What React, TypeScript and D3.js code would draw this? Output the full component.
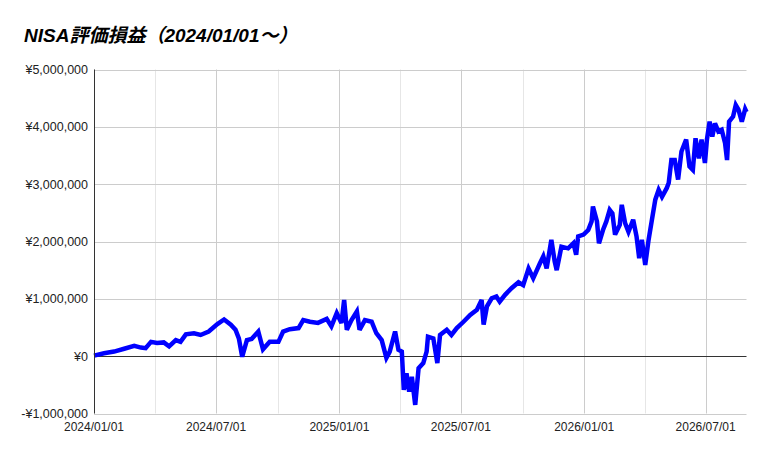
import React, { useEffect, useRef } from 'react';
import * as d3 from 'd3';

const chartTitle = 'NISA評価損益（2024/01/01～）';

// 日付 (YYYY-MM-DD)
const dates: string[] = [
  '2024-01-01', '2024-01-16', '2024-01-31', '2024-02-15', '2024-03-01', '2024-03-11', '2024-03-18',
  '2024-03-26', '2024-04-04', '2024-04-14', '2024-04-22', '2024-05-02', '2024-05-09', '2024-05-17',
  '2024-05-29', '2024-06-08', '2024-06-20', '2024-07-03', '2024-07-13', '2024-07-23', '2024-07-30',
  '2024-08-04', '2024-08-09', '2024-08-16', '2024-08-23', '2024-09-02', '2024-09-09', '2024-09-19',
  '2024-10-02', '2024-10-09', '2024-10-19', '2024-11-01', '2024-11-08', '2024-11-18', '2024-11-30',
  '2024-12-13', '2024-12-20', '2024-12-28', '2025-01-04', '2025-01-08', '2025-01-12', '2025-01-19',
  '2025-01-27', '2025-01-31', '2025-02-08', '2025-02-18', '2025-02-25', '2025-03-05', '2025-03-12',
  '2025-03-17', '2025-03-25', '2025-03-30', '2025-04-04', '2025-04-07', '2025-04-11', '2025-04-15',
  '2025-04-19', '2025-04-24', '2025-04-29', '2025-05-06', '2025-05-11', '2025-05-13', '2025-05-21',
  '2025-05-27', '2025-05-31', '2025-06-10', '2025-06-17', '2025-06-25', '2025-07-05', '2025-07-15',
  '2025-07-25', '2025-08-01', '2025-08-04', '2025-08-09', '2025-08-16', '2025-08-23', '2025-08-28',
  '2025-09-05', '2025-09-15', '2025-09-25', '2025-10-02', '2025-10-10', '2025-10-17', '2025-10-27',
  '2025-11-01', '2025-11-06', '2025-11-13', '2025-11-18', '2025-11-21', '2025-11-28', '2025-12-08',
  '2025-12-16', '2025-12-20', '2025-12-23', '2025-12-31', '2026-01-07', '2026-01-12', '2026-01-14',
  '2026-01-20', '2026-01-23', '2026-01-29', '2026-02-03', '2026-02-08', '2026-02-12', '2026-02-16',
  '2026-02-23', '2026-02-26', '2026-03-03', '2026-03-08', '2026-03-15', '2026-03-20', '2026-03-24',
  '2026-03-28', '2026-04-02', '2026-04-07', '2026-04-12', '2026-04-17', '2026-04-22', '2026-04-27',
  '2026-05-04', '2026-05-07', '2026-05-11', '2026-05-16', '2026-05-21', '2026-05-26', '2026-06-02',
  '2026-06-07', '2026-06-12', '2026-06-16', '2026-06-21', '2026-06-25', '2026-06-30', '2026-07-03',
  '2026-07-07', '2026-07-11', '2026-07-15', '2026-07-20', '2026-07-25', '2026-07-30', '2026-08-02',
  '2026-08-05', '2026-08-11', '2026-08-15', '2026-08-19', '2026-08-24', '2026-08-29', '2026-08-31',
];

// 評価損益 (円)
const profits: number[] = [
  10000, 50000, 80000, 130000, 180000, 150000, 140000,
  250000, 230000, 240000, 170000, 280000, 250000, 380000,
  400000, 370000, 430000, 560000, 640000, 550000, 460000,
  310000, -10000, 280000, 300000, 430000, 120000, 250000,
  250000, 430000, 470000, 490000, 630000, 600000, 580000,
  650000, 520000, 750000, 580000, 980000, 460000, 630000,
  780000, 460000, 630000, 600000, 400000, 280000, -30000,
  80000, 430000, 110000, 80000, -590000, -300000, -620000,
  -360000, -850000, -210000, -120000, 80000, 340000, 310000,
  -120000, 370000, 460000, 370000, 490000, 600000, 720000,
  810000, 980000, 550000, 870000, 1010000, 1040000, 950000,
  1070000, 1190000, 1290000, 1240000, 1530000, 1360000, 1620000,
  1740000, 1530000, 2030000, 1650000, 1500000, 1910000, 1880000,
  1970000, 1770000, 2090000, 2120000, 2200000, 2350000, 2610000,
  2350000, 1970000, 2200000, 2350000, 2550000, 2490000, 2120000,
  2290000, 2640000, 2320000, 2170000, 2380000, 2090000, 1710000,
  2030000, 1590000, 2030000, 2380000, 2730000, 2900000, 2780000,
  2930000, 3020000, 3420000, 3420000, 3080000, 3570000, 3780000,
  3310000, 3250000, 3800000, 3450000, 3780000, 3370000, 3780000,
  4090000, 3830000, 4060000, 3920000, 3950000, 3720000, 3420000,
  4090000, 4180000, 4380000, 4300000, 4090000, 4310000, 4260000,
];

const yTicks: number[] = [-1000000, 0, 1000000, 2000000, 3000000, 4000000, 5000000];

const WIDTH = 769;
const HEIGHT = 457;
const LEFT = 94;
const RIGHT = 746.5;
const TOP = 69.5;
const BOTTOM = 413.5;

const yenFormat = (v: number) => (v < 0 ? '-' : '') + '¥' + d3.format(',')(Math.abs(v));

const App: React.FC = () => {
  const svgRef = useRef<SVGSVGElement>(null);

  useEffect(() => {
    document.body.style.margin = '0';
    if (!svgRef.current) return;

    const svg = d3.select(svgRef.current);
    svg.selectAll('*').remove();

    const parse = d3.timeParse('%Y-%m-%d');
    const data = dates.map((d, i) => ({ date: parse(d) as Date, value: profits[i] }));

    const x = d3.scaleTime()
      .domain(d3.extent(data, d => d.date) as [Date, Date])
      .range([LEFT, RIGHT]);

    const y = d3.scaleLinear()
      .domain([-1000000, 5000000])
      .range([BOTTOM, TOP]);

    const font = 'Arial, "Liberation Sans", sans-serif';

    // タイトル
    svg.append('text')
      .attr('x', 24)
      .attr('y', 42)
      .attr('font-family', 'Arial, "Liberation Sans", "Noto Sans CJK JP", sans-serif')
      .attr('font-size', 19)
      .attr('font-weight', 'bold')
      .attr('font-style', 'italic')
      .attr('fill', '#000')
      .text(chartTitle);

    // 縦グリッド (四半期 = 薄い, 半年 = 濃い)
    const [d0, d1] = x.domain();
    const minorTicks = d3.timeMonth.every(3)!.range(d0, d1).filter(d => d.getMonth() % 6 !== 0);
    const majorTicks = d3.timeMonth.every(6)!.range(d0, d1);

    svg.append('g')
      .selectAll('line')
      .data(minorTicks)
      .enter()
      .append('line')
      .attr('x1', d => Math.round(x(d)) + 0.5)
      .attr('x2', d => Math.round(x(d)) + 0.5)
      .attr('y1', TOP)
      .attr('y2', BOTTOM)
      .attr('stroke', '#e6e6e6')
      .attr('stroke-width', 1);

    svg.append('g')
      .selectAll('line')
      .data(majorTicks)
      .enter()
      .append('line')
      .attr('x1', d => Math.round(x(d)) + 0.5)
      .attr('x2', d => Math.round(x(d)) + 0.5)
      .attr('y1', TOP)
      .attr('y2', BOTTOM)
      .attr('stroke', '#cccccc')
      .attr('stroke-width', 1);

    // 横グリッド
    svg.append('g')
      .selectAll('line')
      .data(yTicks)
      .enter()
      .append('line')
      .attr('x1', LEFT)
      .attr('x2', RIGHT)
      .attr('y1', d => Math.round(y(d)) + 0.5)
      .attr('y2', d => Math.round(y(d)) + 0.5)
      .attr('stroke', d => (d === 0 ? '#333333' : '#cccccc'))
      .attr('stroke-width', 1);

    // Y軸ラベル
    svg.append('g')
      .selectAll('text')
      .data(yTicks)
      .enter()
      .append('text')
      .attr('x', LEFT - 6)
      .attr('y', d => y(d) + 4.5)
      .attr('text-anchor', 'end')
      .attr('font-family', font)
      .attr('font-size', 12.5)
      .attr('fill', '#222')
      .text(d => yenFormat(d));

    // X軸ラベル
    svg.append('g')
      .selectAll('text')
      .data(majorTicks)
      .enter()
      .append('text')
      .attr('x', d => x(d))
      .attr('y', 431)
      .attr('text-anchor', 'middle')
      .attr('font-family', font)
      .attr('font-size', 12)
      .attr('fill', '#222')
      .text(d => d3.timeFormat('%Y/%m/%d')(d));

    // 系列
    const line = d3.line<{ date: Date; value: number }>()
      .x(d => x(d.date))
      .y(d => y(d.value));

    svg.append('path')
      .datum(data)
      .attr('d', line)
      .attr('fill', 'none')
      .attr('stroke', '#0000ff')
      .attr('stroke-width', 4.5)
      .attr('stroke-linejoin', 'miter')
      .attr('stroke-miterlimit', 3);

    // 左軸
    svg.append('line')
      .attr('x1', LEFT + 0.5)
      .attr('x2', LEFT + 0.5)
      .attr('y1', TOP)
      .attr('y2', BOTTOM)
      .attr('stroke', '#333333')
      .attr('stroke-width', 1);
  }, []);

  return (
    <div style={{ width: WIDTH, height: HEIGHT }}>
      <svg ref={svgRef} width={WIDTH} height={HEIGHT} style={{ display: 'block', background: '#fff' }} />
    </div>
  );
};

export default App;
